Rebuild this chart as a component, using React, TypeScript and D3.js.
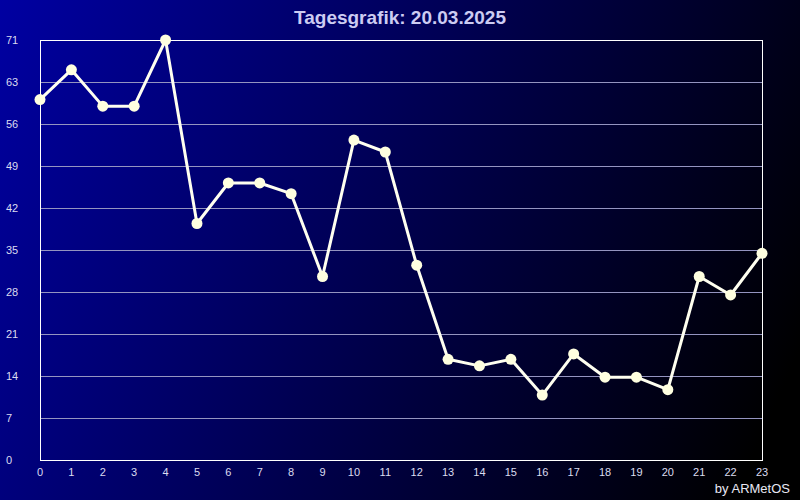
import React from "react";
import * as d3 from "d3";

const hours = [0,1,2,3,4,5,6,7,8,9,10,11,12,13,14,15,16,17,18,19,20,21,22,23];
const values = [60.5,65.5,59.4,59.4,70.5,39.7,46.5,46.5,44.7,30.8,53.7,51.7,32.7,16.9,15.8,16.9,10.9,17.8,13.9,13.9,11.8,30.8,27.7,34.7];
const yTickLabels = ["0","7","14","21","28","35","42","49","56","63","71"];
const title = "Tagesgrafik: 20.03.2025";
const credit = "by ARMetOS";

export default function App() {
  const W = 800, H = 500;
  const left = 40, right = 762, top = 40, bottom = 460;
  const yMax = 70.5;
  const x = d3.scaleLinear().domain([0, 23]).range([left, right]);
  const y = d3.scaleLinear().domain([0, yMax]).range([bottom, top]);
  const line = d3.line<number>().x((_, i) => x(hours[i])).y(d => y(d));
  const tickVals = yTickLabels.map((_, i) => (yMax / 10) * i);
  const font = "Arial, 'Liberation Sans', sans-serif";
  return (
    <svg width={W} height={H} style={{ position: "absolute", left: 0, top: 0 }}>
      <defs>
        <linearGradient id="bg" gradientUnits="userSpaceOnUse" x1={0} y1={0} x2={800} y2={350}>
          <stop offset="0%" stopColor="#0000a2" />
          <stop offset="100%" stopColor="#000000" />
        </linearGradient>
      </defs>
      <rect x={0} y={0} width={W} height={H} fill="url(#bg)" />
      <text x={400} y={24} textAnchor="middle" fill="#ccccf2" fontFamily={font} fontWeight="bold" fontSize={19}>{title}</text>
      {tickVals.slice(1, 10).map((v, i) => (
        <line key={i} x1={left} x2={right} y1={Math.round(y(v)) + 0.5} y2={Math.round(y(v)) + 0.5} stroke="#9494c0" strokeWidth={1} />
      ))}
      <rect x={left + 0.5} y={top + 0.5} width={right - left} height={bottom - top} fill="none" stroke="#ffffff" strokeWidth={1} />
      {tickVals.map((v, i) => (
        <text key={i} x={6} y={y(v) + 4} fill="#dcdcf0" fontFamily={font} fontSize={11}>{yTickLabels[i]}</text>
      ))}
      {hours.map(h => (
        <text key={h} x={x(h)} y={476} textAnchor="middle" fill="#dcdcf0" fontFamily={font} fontSize={11}>{h}</text>
      ))}
      <path d={line(values) || ""} fill="none" stroke="#fffff0" strokeWidth={3} strokeLinejoin="round" />
      {values.map((v, i) => (
        <circle key={i} cx={x(hours[i])} cy={y(v)} r={5.5} fill="#ffffe0" />
      ))}
      <text x={790} y={493} textAnchor="end" fill="#e8e8f4" fontFamily={font} fontSize={13}>{credit}</text>
    </svg>
  );
}
